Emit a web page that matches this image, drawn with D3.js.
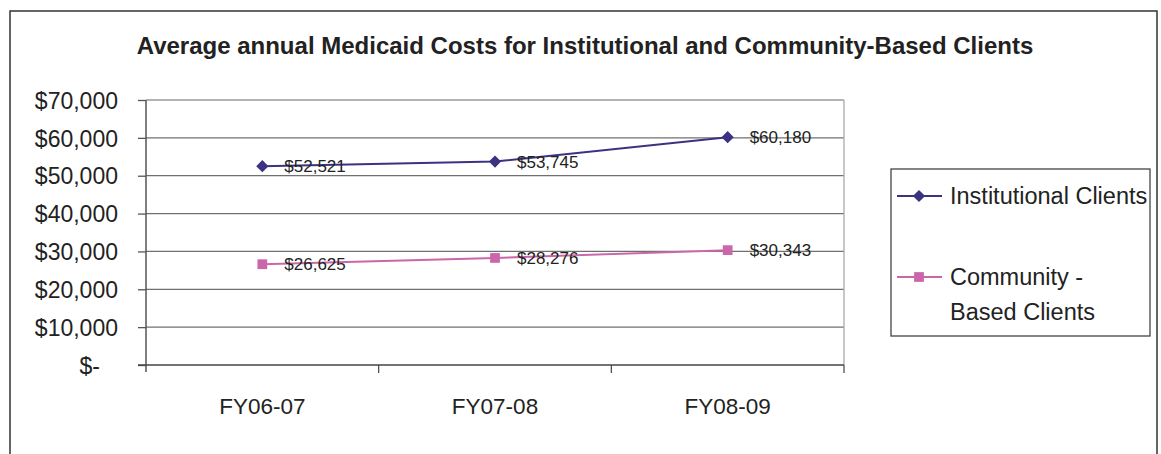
<!DOCTYPE html>
<html>
<head>
<meta charset="utf-8">
<script src="https://d3js.org/d3.v7.min.js"></script>
<style>
body { margin: 0; background: #fff; }
text { font-family: "Liberation Sans", Arial, sans-serif; fill: #222; }
</style>
</head>
<body>
<svg id="chart" width="1161" height="454"></svg>
<script>

var years = ["FY06-07", "FY07-08", "FY08-09"]
var institutional = [52521, 53745, 60180]
var community = [26625, 28276, 30343]
var yTicks = [0, 10000, 20000, 30000, 40000, 50000, 60000, 70000]

var series = [
	{name: "Institutional Clients", lines: ["Institutional Clients"], values: institutional, color: "#3b3282", rot: 45, size: 75},
	{name: "Community - Based Clients", lines: ["Community -", "Based Clients"], values: community, color: "#cc66aa", rot: 0, size: 95}
]

var svg = d3.select("#chart"),
	margin = {top: 100, left: 146, bottom: 365, right: 844}

// outer frame
svg.append("rect")
	.attr("x", 10).attr("y", 11)
	.attr("width", 1147).attr("height", 470)
	.attr("fill", "none").attr("stroke", "#333").attr("stroke-width", 1.5)

svg.append("text")
	.attr("x", 585).attr("y", 54)
	.attr("text-anchor", "middle")
	.attr("font-weight", "bold")
	.attr("font-size", 24)
	.text("Average annual Medicaid Costs for Institutional and Community-Based Clients")

var x = d3.scaleBand()
	.domain(years)
	.range([margin.left, margin.right])

var y = d3.scaleLinear()
	.domain([0, 70000])
	.range([margin.bottom, margin.top])

// grid
svg.append("g")
	.selectAll("line")
	.data(yTicks.slice(1))
	.enter().append("line")
	.attr("x1", margin.left).attr("x2", margin.right)
	.attr("y1", d => y(d)).attr("y2", d => y(d))
	.attr("stroke", d => d == 70000 ? "#a09a9a" : "#707070")
	.attr("stroke-width", 1.3)

svg.append("line")
	.attr("x1", margin.right).attr("x2", margin.right)
	.attr("y1", margin.top).attr("y2", margin.bottom)
	.attr("stroke", "#b0a8a8").attr("stroke-width", 1.3)

var yAxis = svg.append("g")
	.attr("transform", `translate(${margin.left},0)`)
	.call(d3.axisLeft(y).tickValues(yTicks).tickSize(8).tickPadding(20)
		.tickFormat(d => d == 0 ? "$-" : "$" + d3.format(",")(d)))

yAxis.select(".domain").attr("stroke", "#555").attr("stroke-width", 1.5)
	.attr("d", `M0,${margin.top}V${margin.bottom + 7}`)
yAxis.selectAll(".tick line").attr("stroke", "#555").attr("stroke-width", 1.3)
yAxis.selectAll(".tick text")
	.attr("font-size", 23)
	.attr("font-family", "Liberation Sans, Arial, sans-serif")
	.attr("fill", "#222")
	.attr("text-anchor", "end")
	.attr("dx", d => d == 0 ? "-18" : "0")
	.attr("dy", "0.36em")

var xAxis = svg.append("g")
	.attr("transform", `translate(0,${margin.bottom})`)
	.call(d3.axisBottom(x).tickSize(0).tickPadding(33))

xAxis.select(".domain").attr("stroke", "#444").attr("stroke-width", 1.5)
	.attr("d", `M${margin.left - 8},0H${margin.right}`)
xAxis.selectAll(".tick text")
	.attr("font-size", 22.5)
	.attr("font-family", "Liberation Sans, Arial, sans-serif")
	.attr("fill", "#222")

// category separator ticks
svg.append("g")
	.selectAll("line")
	.data(years.slice(1).concat(["end"]))
	.enter().append("line")
	.attr("x1", (d, i) => margin.left + x.bandwidth() * (i + 1))
	.attr("x2", (d, i) => margin.left + x.bandwidth() * (i + 1))
	.attr("y1", margin.bottom).attr("y2", margin.bottom + 8)
	.attr("stroke", "#444").attr("stroke-width", 1.2)

var cx = d => x(d) + x.bandwidth() / 2

var line = d3.line()
	.x((d, i) => cx(years[i]))
	.y(d => y(d))

var marker = s => d3.symbol().type(d3.symbolSquare).size(s.size)()

series.forEach(function(s) {
	svg.append("path")
		.datum(s.values)
		.attr("d", line)
		.attr("fill", "none")
		.attr("stroke", s.color)
		.attr("stroke-width", 2)

	svg.append("g")
		.selectAll("path")
		.data(s.values)
		.enter().append("path")
		.attr("transform", (d, i) => `translate(${cx(years[i])},${y(d)}) rotate(${s.rot})`)
		.attr("d", marker(s))
		.attr("fill", s.color)

	svg.append("g")
		.selectAll("text")
		.data(s.values)
		.enter().append("text")
		.attr("x", (d, i) => cx(years[i]) + 22)
		.attr("y", d => y(d))
		.attr("dy", "0.36em")
		.attr("font-size", 17)
		.text(d => "$" + d3.format(",")(d))
})

// legend
svg.append("rect")
	.attr("x", 891).attr("y", 169)
	.attr("width", 259).attr("height", 167)
	.attr("fill", "#fff").attr("stroke", "#444").attr("stroke-width", 1.3)

var legendY = [196, 277]

var legend = svg.append("g")
	.selectAll("g")
	.data(series)
	.enter().append("g")
	.attr("transform", (d, i) => `translate(0,${legendY[i]})`)

legend.append("line")
	.attr("x1", 897).attr("x2", 942)
	.attr("stroke", d => d.color).attr("stroke-width", 2)

legend.append("path")
	.attr("transform", d => `translate(919,0) rotate(${d.rot})`)
	.attr("d", d => marker(d))
	.attr("fill", d => d.color)

legend.append("text")
	.attr("x", 950)
	.attr("font-size", 23.5)
	.selectAll("tspan")
	.data(d => d.lines)
	.enter().append("tspan")
	.attr("x", 950)
	.attr("dy", (d, i) => i == 0 ? "0.36em" : "1.45em")
	.text(d => d)

</script>
</body>
</html>
